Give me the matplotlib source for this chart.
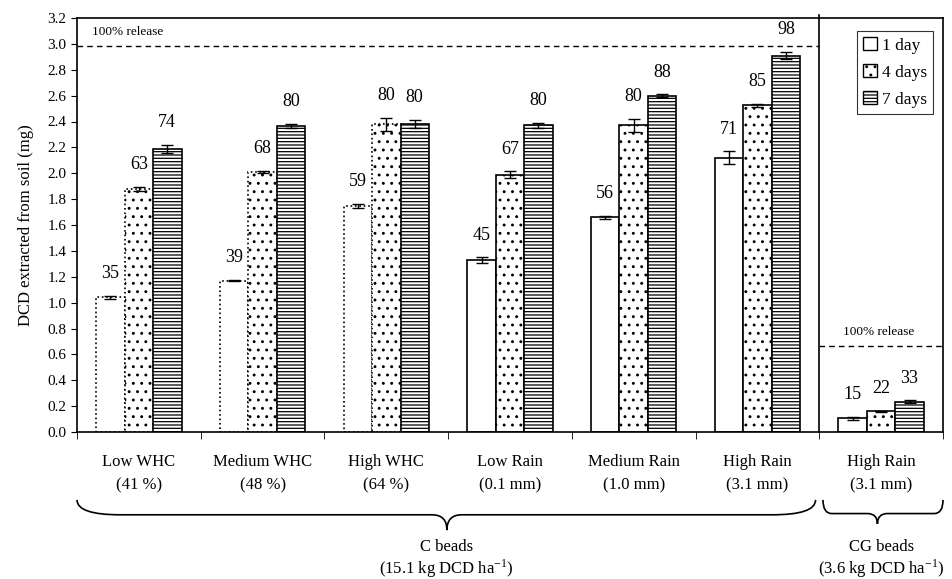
import matplotlib.pyplot as plt
from matplotlib.patches import Patch, PathPatch
from matplotlib.path import Path

plt.rcParams['font.family'] = ['Liberation Serif', 'DejaVu Serif']
plt.rcParams['mathtext.fontset'] = 'stix'
plt.rcParams['hatch.linewidth'] = 0.9

# data
groups = ['Low WHC\n(41 %)', 'Medium WHC\n(48 %)', 'High WHC\n(64 %)',
          'Low Rain\n(0.1 mm)', 'Medium Rain\n(1.0 mm)', 'High Rain\n(3.1 mm)',
          'High Rain\n(3.1 mm)']
day1 = [1.04, 1.17, 1.75, 1.33, 1.66, 2.12, 0.105]
day4 = [1.88, 2.01, 2.38, 1.99, 2.37, 2.525, 0.16]
day7 = [2.19, 2.365, 2.38, 2.37, 2.60, 2.91, 0.235]
err1 = [0.015, 0.005, 0.015, 0.02, 0.01, 0.05, 0.01]
err4 = [0.015, 0.01, 0.05, 0.025, 0.05, 0.01, 0.005]
err7 = [0.03, 0.015, 0.03, 0.02, 0.01, 0.03, 0.01]
pct1 = [35, 39, 59, 45, 56, 71, 15]
pct4 = [63, 68, 80, 67, 80, 85, 22]
pct7 = [74, 80, 80, 80, 88, 98, 33]
full_c = 2.98
full_cg = 0.665

fig = plt.figure(figsize=(9.52, 5.79), dpi=100)
ax = fig.add_axes([77 / 952, 1 - 432 / 579, 866 / 952, 414 / 579])

w = 0.23
x = list(range(len(groups)))
series = [(day1, err1, pct1, -w, ''), (day4, err4, pct4, 0, '..'), (day7, err7, pct7, w, '-----')]
for vals, errs, pcts, off, hatch in series:
    for i in x:
        ls = ':' if (i < 3 and hatch != '-----') else '-'
        ax.bar(i + off, vals[i], w, facecolor='white', edgecolor='black',
               hatch=hatch, linewidth=1.2, linestyle=ls, zorder=2)
        ax.errorbar(i + off, vals[i], yerr=errs[i], fmt='none', ecolor='black',
                    elinewidth=1, capsize=4, capthick=1, zorder=3)
        ax.annotate(str(pcts[i]), (i + off, vals[i] + errs[i]), xytext=(0, 16),
                    textcoords='offset points', ha='center', va='center', fontsize=13)

# 100% release lines
ax.plot([-0.5, 5.5], [full_c, full_c], ls=(0, (4, 3)), color='black', lw=1)
ax.plot([5.5, 6.5], [full_cg, full_cg], ls=(0, (4, 3)), color='black', lw=1)
ax.text(-0.09, 3.09, '100% release', fontsize=9.5, ha='center', va='center')
ax.text(5.98, 0.77, '100% release', fontsize=9.5, ha='center', va='center')

# separator between bead types
ax.plot([5.5, 5.5], [0, 1.008], color='black', lw=1.2,
        transform=ax.get_xaxis_transform(), clip_on=False)

ax.set_xlim(-0.5, 6.5)
ax.set_ylim(0, 3.2)
ax.set_yticks([i / 10 for i in range(0, 33, 2)])
ax.set_yticklabels([f'{i / 10:.1f}' for i in range(0, 33, 2)], fontsize=11)
ax.set_xticks(x)
ax.set_xticklabels(groups, fontsize=12, linespacing=1.6)
ax.set_xticks([i - 0.5 for i in range(8)], minor=True)
ax.tick_params(axis='x', which='major', length=0, pad=16)
ax.tick_params(axis='x', which='minor', length=5, direction='out')
ax.tick_params(axis='y', length=4, direction='out')
ax.set_ylabel('DCD extracted from soil (mg)', fontsize=12, labelpad=10)
for s in ax.spines.values():
    s.set_linewidth(1.2)

# legend
handles = [Patch(facecolor='white', edgecolor='black', label='1 day'),
           Patch(facecolor='white', edgecolor='black', hatch='..', label='4 days'),
           Patch(facecolor='white', edgecolor='black', hatch='-----', label='7 days')]
leg = ax.legend(handles=handles, loc='upper right', fontsize=12.5, fancybox=False,
                handlelength=0.8, handleheight=0.8, handletextpad=0.3,
                borderpad=0.35, labelspacing=0.6, bbox_to_anchor=(0.999, 0.99))
leg.get_frame().set_edgecolor('black')
leg.get_frame().set_linewidth(0.8)


def brace(x0, x1, xt, dx_end, dx_tip, y0=-0.164, ym=-0.2, yt=-0.237):
    verts = [(x0, y0), (x0, ym), (x0 + dx_end, ym),
             (xt - dx_tip, ym), (xt, ym), (xt, yt),
             (xt, ym), (xt + dx_tip, ym),
             (x1 - dx_end, ym), (x1, ym), (x1, y0)]
    codes = [Path.MOVETO, Path.CURVE3, Path.CURVE3,
             Path.LINETO, Path.CURVE3, Path.CURVE3,
             Path.CURVE3, Path.CURVE3,
             Path.LINETO, Path.CURVE3, Path.CURVE3]
    ax.add_patch(PathPatch(Path(verts, codes), fill=False, lw=1.2, color='black',
                           transform=ax.get_xaxis_transform(), clip_on=False))


brace(-0.5, 5.47, 2.49, 0.35, 0.12)
brace(5.53, 6.5, 5.97, 0.07, 0.08, ym=-0.197, yt=-0.222)

ax.text(2.49, -0.278, 'C beads', transform=ax.get_xaxis_transform(),
        ha='center', va='center', fontsize=12)
ax.text(2.49, -0.33, r'(15.1 kg DCD ha$^{\mathregular{-1}}$)', transform=ax.get_xaxis_transform(),
        ha='center', va='center', fontsize=12)
ax.text(6.0, -0.278, 'CG beads', transform=ax.get_xaxis_transform(),
        ha='center', va='center', fontsize=12)
ax.text(6.0, -0.33, r'(3.6 kg DCD ha$^{\mathregular{-1}}$)', transform=ax.get_xaxis_transform(),
        ha='center', va='center', fontsize=12)

fig.savefig('out.png', dpi=100)
